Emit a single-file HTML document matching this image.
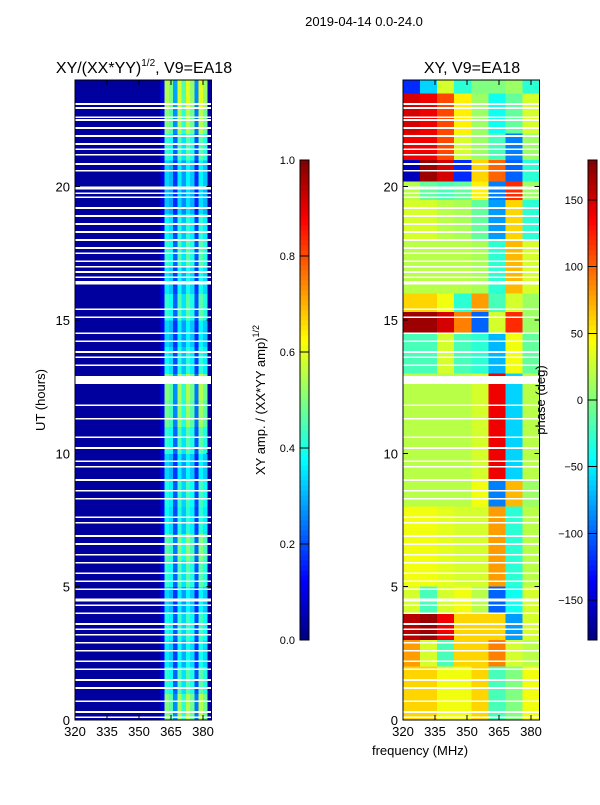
<!DOCTYPE html>
<html><head><meta charset="utf-8"><style>
body{margin:0;background:#fff;}
svg{font-family:"Liberation Sans","DejaVu Sans",sans-serif;}
</style></head><body>
<svg id="fig" width="600" height="800" viewBox="0 0 600 800" xmlns="http://www.w3.org/2000/svg" shape-rendering="crispEdges">
<rect width="600" height="800" fill="#fff"/>
<text x="364" y="26" font-size="13" text-anchor="middle">2019-04-14 0.0-24.0</text>
<text x="144" y="73" font-size="16" text-anchor="middle">XY/(XX*YY)<tspan font-size="10" dy="-7">1/2</tspan><tspan dy="7">, V9=EA18</tspan></text>
<text x="472" y="73" font-size="16" text-anchor="middle">XY, V9=EA18</text>
<g id="left"></g>
<g id="right"></g>
<g id="axes"></g>
<text transform="translate(45,400) rotate(-90)" font-size="13" text-anchor="middle">UT (hours)</text>
<text x="420" y="755" font-size="13" text-anchor="middle">frequency (MHz)</text>
<text transform="translate(265,400) rotate(-90)" font-size="13" text-anchor="middle">XY amp. / (XX*YY amp)<tspan font-size="9" dy="-6">1/2</tspan></text>
<text transform="translate(545,400) rotate(-90)" font-size="13" text-anchor="middle">phase (deg)</text>
<g id="cb"></g>
</svg>
<script>
// ---- data ----
const freqBinsLeft = 32; // 2 MHz bins 320-384
const ampColumn = [0.03,0.03,0.03,0.03,0.03,0.03,0.03,0.03,0.03,0.03,0.03,0.03,0.03,0.03,0.03,0.03,0.03,0.03,0.03,0.03,0.1,0.42,0.38,0.22,0.45,0.35,0.46,0.4,0.2,0.46,0.4,0.03];
const ampHourScale = [1.2,1.0,0.85,0.95,0.8,1.0,1.1,0.9,0.95,0.8,1.0,1.15,1.2,0.9,0.8,1.0,0.85,1.0,0.9,0.75,0.8,1.0,1.2,1.3];
const gapHours = [23.1,22.95,22.6,22.5,22.2,21.9,21.6,21.4,21.2,20.85,20.6,19.95,19.75,19.6,19.2,18.9,18.6,18.3,18.0,17.7,17.5,17.2,17.0,16.8,16.6,16.4,15.4,15.1,14.5,14.2,13.8,13.6,13.3,12.75,11.8,11.3,10.6,10.2,9.7,9.5,9.0,8.6,8.3,7.6,7.4,6.9,6.6,6.2,5.9,5.5,5.2,4.9,4.5,4.3,4.0,3.6,3.4,3.2,2.9,2.6,2.2,1.9,1.5,1.2,0.7,0.3,0.1];
const gapWidths = [0.06,0.06,0.06,0.06,0.06,0.06,0.06,0.06,0.06,0.06,0.06,0.12,0.06,0.06,0.06,0.06,0.06,0.06,0.06,0.06,0.06,0.06,0.06,0.06,0.06,0.14,0.06,0.06,0.06,0.06,0.06,0.06,0.06,0.3,0.06,0.06,0.06,0.06,0.06,0.06,0.06,0.06,0.06,0.06,0.06,0.06,0.06,0.06,0.06,0.06,0.06,0.06,0.12,0.06,0.06,0.06,0.06,0.06,0.06,0.06,0.06,0.06,0.06,0.06,0.06,0.06,0.06];
const phaseBandStart = [23.5,22,21,20.2,19.5,18,16,15.3,14.5,13,9,8,5,4,3,2,0];
const phaseBandEnd   = [24,23.5,22,21,20.2,19.5,18,16,15.3,14.5,13,9,8,5,4,3,2];
const phaseBands = [
 [-120,-60,30,-30,0,0,10,-30],
 [150,140,110,50,10,-40,-10,30],
 [140,140,110,30,10,-20,-90,10],
 [-160,170,150,-120,60,100,-100,-30],
 [20,-10,-20,-10,50,-90,120,10],
 [30,30,20,15,-10,-80,60,-30],
 [20,20,20,20,15,-30,70,30],
 [60,60,40,-30,80,-20,30,10],
 [170,170,150,90,-100,30,120,10],
 [-20,-20,30,-20,-30,-70,40,-10],
 [20,20,20,20,30,140,-60,20],
 [20,20,20,20,40,-90,70,10],
 [40,40,35,30,30,80,-30,20],
 [30,-20,30,40,20,-100,-40,30],
 [160,170,140,60,60,60,-80,30],
 [80,30,-20,60,60,90,30,20],
 [60,60,40,40,60,-20,0,40]];
const xTicks = [320,335,350,365,380];
const yTicks = [0,5,10,15,20];
const ampTicks = [0.0,0.2,0.4,0.6,0.8,1.0];
const phaseTicks = [-150,-100,-50,0,50,100,150];

// ---- helpers ----
const NS="http://www.w3.org/2000/svg";
function jet(v){v=Math.max(0,Math.min(1,v));
 const r=Math.max(0,Math.min(1,1.5-Math.abs(4*v-3))),g=Math.max(0,Math.min(1,1.5-Math.abs(4*v-2))),b=Math.max(0,Math.min(1,1.5-Math.abs(4*v-1)));
 return `rgb(${Math.round(r*255)},${Math.round(g*255)},${Math.round(b*255)})`;}
function mk(tag,attrs,parent){const e=document.createElementNS(NS,tag);for(const k in attrs)e.setAttribute(k,attrs[k]);parent.appendChild(e);return e;}
const Y0=720,Y1=80;
const yS=h=>Y0-(h/24)*(Y0-Y1);
const xL=f=>75+(f-320)*(128/60);
const xR=f=>403+(f-320)*(128/60);
const L=document.getElementById('left'),R=document.getElementById('right'),A=document.getElementById('axes'),C=document.getElementById('cb');

// left heatmap
for(let h=0;h<24;h++){for(let j=0;j<freqBinsLeft;j++){
 const f0=320+j*2, v=ampColumn[j]*(ampColumn[j]>0.15?ampHourScale[h]:1);
 const r=mk('rect',{x:xL(f0),y:yS(h+1),width:xL(f0+2)-xL(f0)+0.5,height:yS(h)-yS(h+1)+0.5,fill:jet(v)},L);
 
 
}}
// right heatmap
phaseBands.forEach((row,i)=>{row.forEach((p,j)=>{
 const f0=320+j*8;
 const r=mk('rect',{x:xR(f0),y:yS(phaseBandEnd[i]),width:xR(f0+8)-xR(f0)+0.5,height:yS(phaseBandStart[i])-yS(phaseBandEnd[i])+0.5,fill:jet((p+180)/360)},R);
 
 
});});
// gaps
gapHours.forEach((g,i)=>{[[L,xL],[R,xR]].forEach(([G,xf])=>{
 const r=mk('rect',{x:xf(320),y:yS(g+gapWidths[i]/2),width:xf(384)-xf(320),height:Math.max(1.5,yS(g-gapWidths[i]/2)-yS(g+gapWidths[i]/2)),fill:'#fff'},G);
 
 
});});
// axes frames and ticks
[[75,xL],[403,xR]].forEach(([x0,xf],k)=>{
 const fr=mk('rect',{x:x0,y:Y1,width:xf(384)-x0,height:Y0-Y1,fill:'none',stroke:'#000','stroke-width':1},A);
 
 
 xTicks.forEach(t=>{
  mk('line',{x1:xf(t),x2:xf(t),y1:Y0,y2:Y0-5,stroke:'#000'},A);
  mk('line',{x1:xf(t),x2:xf(t),y1:Y1,y2:Y1+5,stroke:'#000'},A);
  const tx=mk('text',{x:xf(t),y:Y0+16,'font-size':13,'text-anchor':'middle'},A);tx.textContent=t;
  
  
 });
 yTicks.forEach(t=>{
  mk('line',{x1:x0,x2:x0+5,y1:yS(t),y2:yS(t),stroke:'#000'},A);
  mk('line',{x1:xf(384),x2:xf(384)-5,y1:yS(t),y2:yS(t),stroke:'#000'},A);
  const tx=mk('text',{x:x0-5,y:yS(t)+5,'font-size':13,'text-anchor':'end'},A);tx.textContent=t;
  
  
 });
});
// colorbars
function colorbar(x,lo,hi,ticks,name){
 for(let i=0;i<96;i++){const v=i/96;
  mk('rect',{x:x,y:640-(i+1)*5,width:9,height:5.5,fill:jet(v+1/192)},C);}
 const fr=mk('rect',{x:x,y:160,width:9,height:480,fill:'none',stroke:'#000'},C);
 
 
 ticks.forEach(t=>{const y=640-(t-lo)/(hi-lo)*480;
  mk('line',{x1:x,x2:x+9,y1:y,y2:y,stroke:'#000'},C);
  const tx=mk('text',{x:x-5,y:y+4,'font-size':11,'text-anchor':'end'},C);
  tx.textContent=(t<0?'\u2212'+(-t):(name==='amp-colorbar'?t.toFixed(1):t));
  
  
 });
}
colorbar(300,0,1,ampTicks,'amp-colorbar');
colorbar(588,-180,180,phaseTicks,'phase-colorbar');
</script>
</body></html>
